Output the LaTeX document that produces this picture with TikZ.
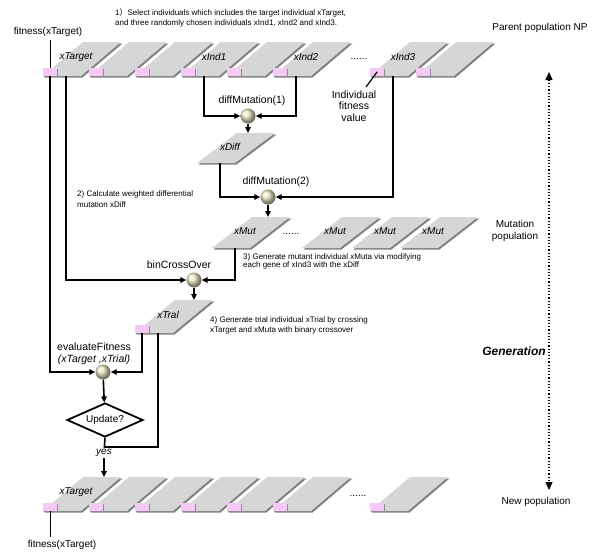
\documentclass[tikz,border=0pt]{standalone}
\usepackage{fontspec}
\setmainfont{Liberation Sans}
\newfontfamily\cjk{Noto Sans CJK SC}
\usetikzlibrary{arrows.meta}
\usetikzlibrary{shapes.geometric}
\definecolor{fitpink}{RGB}{246,200,246}
\definecolor{indgray}{RGB}{214,214,214}
\definecolor{ballcream}{RGB}{236,233,196}
\tikzset{
  indfill/.style={fill=indgray},
  indshadow/.style={fill=black!50},
  fitcell/.style={fill=fitpink, minimum width=14pt, minimum height=8pt, inner sep=0pt},
  ballop/.style={circle, minimum size=15pt, inner sep=0pt, ball color=ballcream},
  txt/.style={font=\fontsize{10}{12}\selectfont},
  indlabel/.style={font=\fontsize{10}{12}\selectfont\itshape, inner sep=0pt},
  oplabel/.style={font=\fontsize{10.5}{12}\selectfont, inner sep=0pt},
  note/.style={font=\fontsize{8}{10}\selectfont, align=left, anchor=west, inner sep=0pt},
  decision/.style={diamond, draw, line width=1.8pt, fill=white, aspect=2.2,
    minimum width=76pt, minimum height=34pt, inner sep=0pt, font=\fontsize{10}{12}\selectfont},
  conn/.style={line width=1.6pt, -{Triangle[length=6pt,width=5.5pt]}},
  wire/.style={line width=1.6pt},
  pointer/.style={line width=0.6pt},
}
% one individual: name, x, bottom y, height, label
\newcommand{\indiv}[5]{
  \fill[indshadow] (#2+1.5,#3+1.5) -- ++(38,0) -- ++(40,-#4) -- ++(-38,0) -- cycle;
  \fill[indfill] (#2,#3) -- ++(38,0) -- ++(40,-#4) -- ++(-38,0) -- cycle;
  \coordinate (#1-s) at (#2+23,#3);
  \coordinate (#1-n) at (#2+58,#3-#4);
  \node[indlabel] (#1) at (#2+33,#3-0.55*#4) {#5};
}
% fitness cell at the corner of an individual: name, x, bottom y
\newcommand{\fitbox}[3]{
  \fill[black!45] (#2+1,#3+1) rectangle (#2+15,#3-7);
  \node[fitcell, anchor=south west] (#1) at (#2,#3) {};
}

\begin{document}
\begin{tikzpicture}[x=1pt,y=-1pt]
\useasboundingbox (0,0) rectangle (601,555);
% parent population
\indiv{tgt}{43}{76}{34}{xTarget}
\indiv{p2}{89}{76}{34}{}
\indiv{p3}{135}{76}{34}{}
\indiv{ind1}{181}{76}{34}{xInd1}
\indiv{p5}{227}{76}{34}{}
\indiv{ind2}{273}{76}{34}{xInd2}
\indiv{ind3}{370}{76}{34}{xInd3}
\indiv{p8}{416}{76}{34}{}
\fitbox{f1}{43}{76}
\fitbox{f2}{89}{76}
\fitbox{f3}{135}{76}
\fitbox{f4}{181}{76}
\fitbox{f5}{227}{76}
\fitbox{f6}{273}{76}
\fitbox{f7}{370}{76}
\fitbox{f8}{416}{76}
\node[txt] (dots1) at (359,59) {......};
% mutation steps
\indiv{xdiff}{197}{163}{30}{xDiff}
\indiv{mut1}{212}{248}{31}{xMut}
\indiv{mut2}{302}{248}{31}{xMut}
\indiv{mut3}{352}{248}{31}{xMut}
\indiv{mut4}{400}{248}{31}{xMut}
\node[txt] (dots2) at (291,234) {......};
\indiv{trial}{135}{333}{33}{xTral}
\fitbox{trf}{135}{333}
% new population
\indiv{new1}{43}{511}{34}{xTarget}
\indiv{new2}{89}{511}{34}{}
\indiv{new3}{135}{511}{34}{}
\indiv{new4}{181}{511}{34}{}
\indiv{new5}{227}{511}{34}{}
\indiv{new6}{273}{511}{34}{}
\indiv{new7}{370}{511}{34}{}
\fitbox{g1}{43}{511}
\fitbox{g2}{89}{511}
\fitbox{g3}{135}{511}
\fitbox{g4}{181}{511}
\fitbox{g5}{227}{511}
\fitbox{g6}{273}{511}
\fitbox{g7}{370}{511}
\node[txt] (dots3) at (358,496) {......};
% operators
\node[ballop] (b1) at (248,116) {};
\node[oplabel] (dm1) at (252,101) {diffMutation(1)};
\node[ballop] (b2) at (268,197) {};
\node[oplabel] (dm2) at (276,182) {diffMutation(2)};
\node[ballop] (b3) at (194,280) {};
\node[oplabel] (bco) at (179,265) {binCrossOver};
\node[ballop] (b4) at (103,372) {};
\node[oplabel, align=center] (evf) at (94,354) {evaluateFitness\\\itshape (xTarget ,xTrial)};
\node[decision] (upd) at (105,420) {Update?};
\node[txt, font=\fontsize{10}{12}\selectfont\itshape, inner sep=1pt] (yes) at (104,453) {yes};
\coordinate (join) at (104,447);
% texts
\node[txt] (fitT) at (48,32) {fitness(xTarget)};
\node[txt] (fitB) at (62,545) {fitness(xTarget)};
\node[txt, align=center, font=\fontsize{10.5}{11.5}\selectfont] (ifv) at (354,106) {Individual\\fitness\\value};
\coordinate (ifvtip) at (366,87);
\node[note] (s1) at (115,18) {1{\cjk ）}Select individuals which includes the target individual xTarget,\\and three randomly chosen individuals xInd1, xInd2 and xInd3.};
\node[note, font=\fontsize{8}{11}\selectfont] (s2) at (77,199.5) {2) Calculate weighted differential\\mutation xDiff};
\node[note, font=\fontsize{8}{8}\selectfont] (s3) at (243,261) {3) Generate mutant individual xMuta via modifying\\each gene of xInd3 with the xDiff};
\node[note] (s4) at (210,325) {4) Generate trial individual xTrial by crossing\\xTarget and xMuta with binary crossover};
\node[txt] (parent) at (540,28) {Parent population NP};
\node[txt, align=center, font=\fontsize{10}{12}\selectfont] (mutpop) at (515,231) {Mutation\\population};
\node[txt] (newpop) at (536,502) {New population};
\node[txt, font=\fontsize{12}{14}\selectfont\bfseries\itshape] (gen) at (514,351) {Generation};
% connectors
\draw[pointer] (f1 |- fitT.south) -- (f1.north);
\draw[pointer] (g1.south) -- (g1 |- fitB.north);
\draw[line width=1.2pt] (ifvtip) -- (f7.center);
\draw[conn] (ind1-s) |- (b1);
\draw[conn] (ind2-s) |- (b1);
\draw[conn] (b1) -- (b1 |- xdiff-n);
\draw[conn] (xdiff-s) |- (b2);
\draw[conn] (ind3-s) |- (b2);
\draw[conn] (b2) -- (b2 |- mut1-n);
\draw[conn] (tgt-s) |- (b3);
\draw[conn] (mut1-s) |- (b3);
\draw[conn] (b3) -- (b3 |- trial-n);
\draw[conn] (f1.south) |- (b4);
\draw[conn] (trf.south) |- (b4);
\draw[conn] (b4) -- (upd);
\draw[wire] (trial-s) |- (join);
\draw[wire] (upd.south) -- (yes);
\draw[conn] (yes) -- (yes |- new1-n);
% generation arrow
\coordinate (gtop) at (549,72);
\coordinate (gbot) at (549,490);
\draw[line width=1.2pt, dotted, {Triangle[length=8pt,width=7pt]}-{Triangle[length=8pt,width=7pt]}] (gtop) -- (gbot);
\end{tikzpicture}
\end{document}
